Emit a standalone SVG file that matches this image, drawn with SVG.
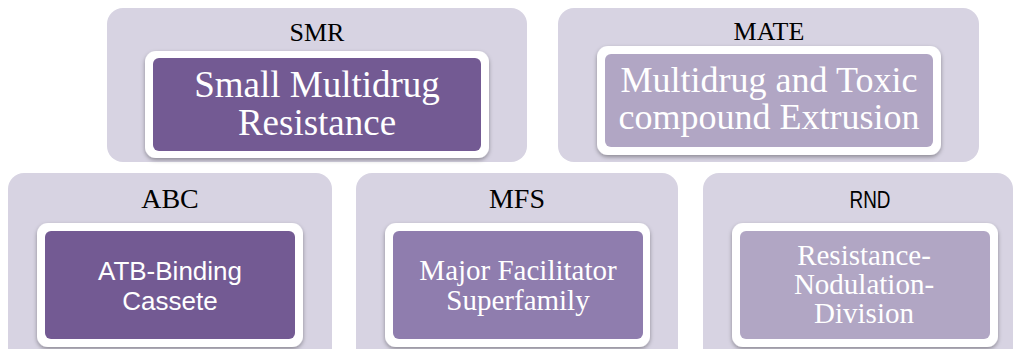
<svg xmlns="http://www.w3.org/2000/svg" width="1014" height="349" viewBox="0 0 1014 349">
<defs>
<filter id="sh" x="-10%" y="-10%" width="120%" height="130%">
<feDropShadow dx="0" dy="2" stdDeviation="2" flood-color="#000" flood-opacity="0.35"/>
</filter>
<style>
.outer{fill:#D7D3E2}
.frame{fill:#FFFFFF;filter:url(#sh)}
.dark{fill:#735A93}
.mid{fill:#8F7DAE}
.light{fill:#B1A6C4}
.lbl{font-family:"Liberation Serif","Times New Roman",serif;fill:#000;text-anchor:middle}
.lbls{font-family:"Liberation Sans",Arial,sans-serif;fill:#000;text-anchor:middle}
.big{font-family:"Liberation Serif","Times New Roman",serif;fill:#FFFFFF;text-anchor:middle}
.sans{font-family:"Liberation Sans",Arial,sans-serif;fill:#FFFFFF;text-anchor:middle}
</style>
</defs>
<rect width="1014" height="349" fill="#FFFFFF"/>
<g id="connectors"/>
<g id="smr">
<rect class="outer" x="107" y="8" width="420" height="154" rx="16"/>
<text class="lbl" x="317" y="41" font-size="26">SMR</text>
<rect class="frame" x="145" y="51" width="344" height="107" rx="11"/>
<rect class="dark" x="153" y="58" width="328" height="93" rx="6"/>
<text class="big" font-size="37"><tspan x="317" y="97">Small Multidrug</tspan><tspan x="317" y="135">Resistance</tspan></text>
</g>
<g id="mate">
<rect class="outer" x="558" y="8" width="421" height="154" rx="16"/>
<text class="lbl" x="769" y="40" font-size="26">MATE</text>
<rect class="frame" x="597" y="46" width="344" height="109" rx="11"/>
<rect class="light" x="605" y="54" width="328" height="93" rx="6"/>
<text class="big" font-size="36"><tspan x="769" y="92">Multidrug and Toxic</tspan><tspan x="769" y="129">compound Extrusion</tspan></text>
</g>
<g id="abc">
<rect class="outer" x="8" y="173" width="324" height="200" rx="16"/>
<text class="lbl" x="170" y="208" font-size="28">ABC</text>
<rect class="frame" x="37" y="223" width="266" height="124" rx="11"/>
<rect class="dark" x="45" y="231" width="250" height="108" rx="6"/>
<text class="sans" font-size="26"><tspan x="170" y="280">ATB-Binding</tspan><tspan x="170" y="310">Cassete</tspan></text>
</g>
<g id="mfs">
<rect class="outer" x="356" y="173" width="322" height="200" rx="16"/>
<text class="lbl" x="517" y="208" font-size="28">MFS</text>
<rect class="frame" x="385" y="223" width="265" height="124" rx="11"/>
<rect class="mid" x="393" y="231" width="250" height="108" rx="6"/>
<text class="big" font-size="29"><tspan x="518" y="280">Major Facilitator</tspan><tspan x="518" y="310">Superfamily</tspan></text>
</g>
<g id="rnd">
<rect class="outer" x="703" y="173" width="310" height="200" rx="16"/>
<text class="lbls" x="870" y="208" font-size="23" textLength="41" lengthAdjust="spacingAndGlyphs">RND</text>
<rect class="frame" x="732" y="223" width="266" height="124" rx="11"/>
<rect class="light" x="740" y="231" width="250" height="108" rx="6"/>
<text class="big" font-size="29"><tspan x="864" y="265">Resistance-</tspan><tspan x="864" y="294">Nodulation-</tspan><tspan x="864" y="323">Division</tspan></text>
</g>
</svg>
